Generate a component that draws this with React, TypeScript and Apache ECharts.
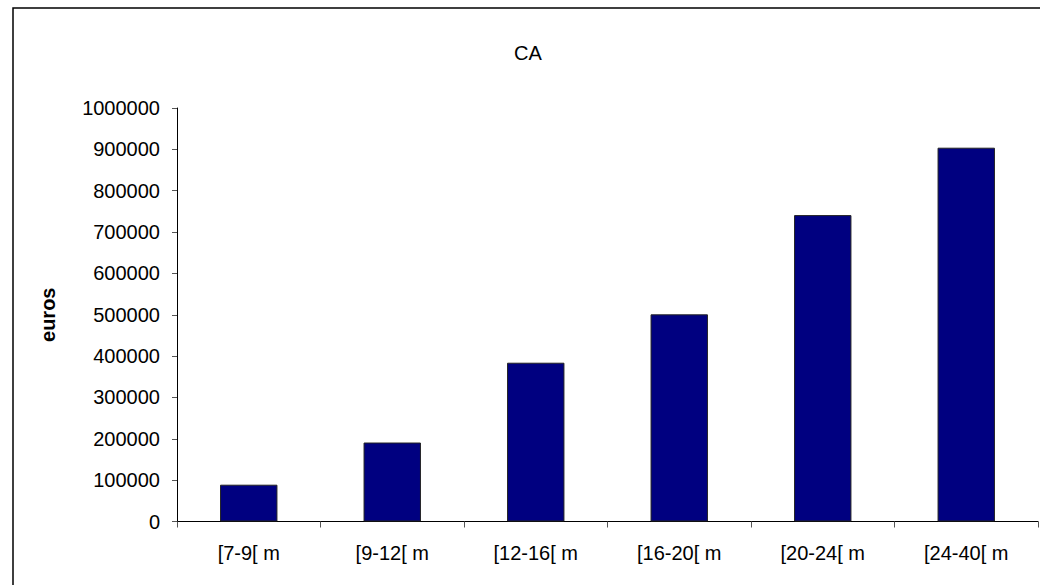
import React, { useEffect, useRef } from "react";
import * as echarts from "echarts";

const categories = ["[7-9[ m", "[9-12[ m", "[12-16[ m", "[16-20[ m", "[20-24[ m", "[24-40[ m"];
const caValues = [89000, 191000, 384000, 501000, 741000, 904000];
const yMin = 0;
const yMax = 1000000;
const yInterval = 100000;

export default function App() {
  const ref = useRef<HTMLDivElement>(null);
  useEffect(() => {
    if (!ref.current) return;
    const chart = echarts.init(ref.current, null, { renderer: "svg" });
    const font = "'Liberation Sans', Arial, sans-serif";
    chart.setOption({
      animation: false,
      backgroundColor: "#ffffff",
      title: {
        text: "CA",
        left: 523,
        top: 38,
        textAlign: "center",
        textStyle: { fontFamily: font, fontSize: 20, fontWeight: "normal", color: "#000" },
      },
      graphic: [
        {
          type: "rect",
          shape: { x: 13, y: 8, width: 1100, height: 700 },
          style: { fill: "none", stroke: "#000", lineWidth: 1.5 },
          silent: true,
        },
      ],
      grid: { left: 177, right: 2, top: 108, bottom: 63.5, containLabel: false },
      xAxis: {
        type: "category",
        data: categories,
        axisLine: { lineStyle: { color: "#000", width: 1 } },
        axisTick: { show: true, alignWithLabel: false, length: 6, lineStyle: { color: "#555" } },
        axisLabel: { fontFamily: font, fontSize: 20, color: "#000", margin: 21 },
        splitLine: { show: false },
      },
      yAxis: {
        type: "value",
        min: yMin,
        max: yMax,
        interval: yInterval,
        name: "euros",
        nameLocation: "middle",
        nameGap: 119,
        nameRotate: 90,
        nameTextStyle: { fontFamily: font, fontSize: 20, fontWeight: "bold", color: "#000" },
        axisLine: { show: true, lineStyle: { color: "#000", width: 1 } },
        axisTick: { show: true, length: 5, lineStyle: { color: "#555" } },
        axisLabel: {
          fontFamily: font,
          fontSize: 20,
          color: "#000",
          margin: 17,
          formatter: (v: number) => String(v),
        },
        splitLine: { show: false },
      },
      series: [
        {
          type: "bar",
          data: caValues,
          barCategoryGap: "60%",
          itemStyle: { color: "#000080", borderColor: "#222", borderWidth: 1 },
        },
      ],
    });
    return () => chart.dispose();
  }, []);
  return (
    <div
      ref={ref}
      style={{ position: "fixed", left: 0, top: 0, width: 1040, height: 585, background: "#fff" }}
    />
  );
}
